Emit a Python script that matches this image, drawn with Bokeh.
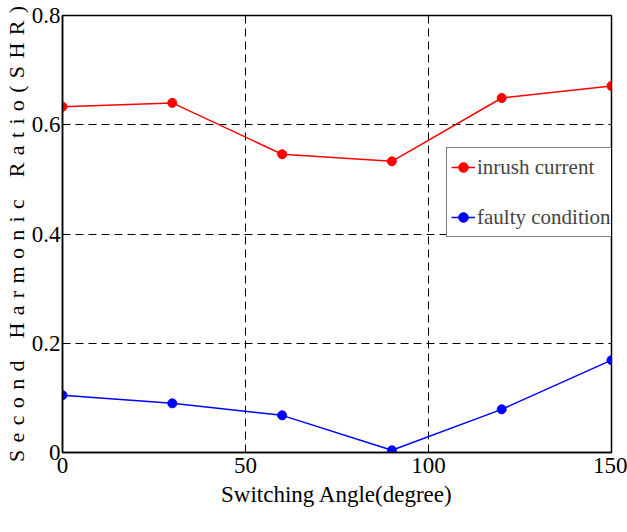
from bokeh.plotting import figure
from bokeh.models import FixedTicker, Range1d, Legend, LegendItem
from bokeh.embed import file_html
from bokeh.resources import INLINE

angles = [0, 30, 60, 90, 120, 150]
inrush = [0.633, 0.640, 0.546, 0.533, 0.649, 0.671]
faulty = [0.105, 0.090, 0.068, 0.004, 0.079, 0.169]
x_ticks = [0, 50, 100, 150]
y_ticks = [0, 0.2, 0.4, 0.6, 0.8]
y_tick_labels = {0: "0", 0.2: "0.2", 0.4: "0.4", 0.6: "0.6", 0.8: "0.8"}
y_title_words = ["Second", "Harmonic", "Ratio(SHR)"]

FONT = "Liberation Serif"
LETTER_GAP = "\u2004"
WORD_GAP = "\u2003"
y_title = WORD_GAP.join(LETTER_GAP.join(w) for w in y_title_words)

p = figure(width=627, height=532, output_backend="svg", toolbar_location=None,
           x_range=Range1d(0, 150), y_range=Range1d(0, 0.8),
           min_border_left=61, min_border_right=16, min_border_top=15, min_border_bottom=80)
p.outline_line_color = "black"
p.outline_line_width = 1.5

r1 = p.line(angles, inrush, line_color="red", line_width=1.5)
s1 = p.scatter(angles, inrush, size=9, fill_color="red", line_color="red")
r2 = p.line(angles, faulty, line_color="blue", line_width=1.5)
s2 = p.scatter(angles, faulty, size=9, fill_color="blue", line_color="blue")

p.xaxis.ticker = FixedTicker(ticks=x_ticks)
p.yaxis.ticker = FixedTicker(ticks=y_ticks)
p.yaxis.major_label_overrides = y_tick_labels

for ax in (p.xaxis[0], p.yaxis[0]):
    ax.axis_line_color = "black"
    ax.axis_line_width = 1.5
    ax.major_tick_in = 5
    ax.major_tick_out = 0
    ax.minor_tick_line_color = None
    ax.major_label_text_font = FONT
    ax.major_label_text_font_size = "23px"
    ax.major_label_text_color = "black"
    ax.axis_label_text_font = FONT
    ax.axis_label_text_font_style = "normal"
    ax.axis_label_text_color = "black"

p.xaxis.axis_label = "Switching Angle(degree)"
p.xaxis.axis_label_text_font_size = "23px"
p.xaxis.major_label_standoff = 5
p.xaxis.axis_label_standoff = 6
p.yaxis.axis_label = y_title
p.yaxis.axis_label_text_font_size = "22px"
p.yaxis.major_label_standoff = 2
p.yaxis.axis_label_standoff = 0

p.grid.grid_line_color = "black"
p.grid.grid_line_dash = "8 5"
p.grid.grid_line_width = 1
p.xgrid.ticker = FixedTicker(ticks=[50, 100])
p.ygrid.ticker = FixedTicker(ticks=[0.2, 0.4, 0.6])

legend = Legend(items=[LegendItem(label="inrush current", renderers=[r1, s1]),
                       LegendItem(label="faulty condition", renderers=[r2, s2])],
                location=(384, 215), label_text_font=FONT, label_text_font_size="21px",
                border_line_color="black", border_line_width=1.2,
                glyph_width=24, glyph_height=30, label_height=30,
                label_standoff=2, spacing=20, padding=4,
                margin=0, background_fill_alpha=1)
p.add_layout(legend, "center")

open("out.html", "w").write(file_html(p, INLINE))
